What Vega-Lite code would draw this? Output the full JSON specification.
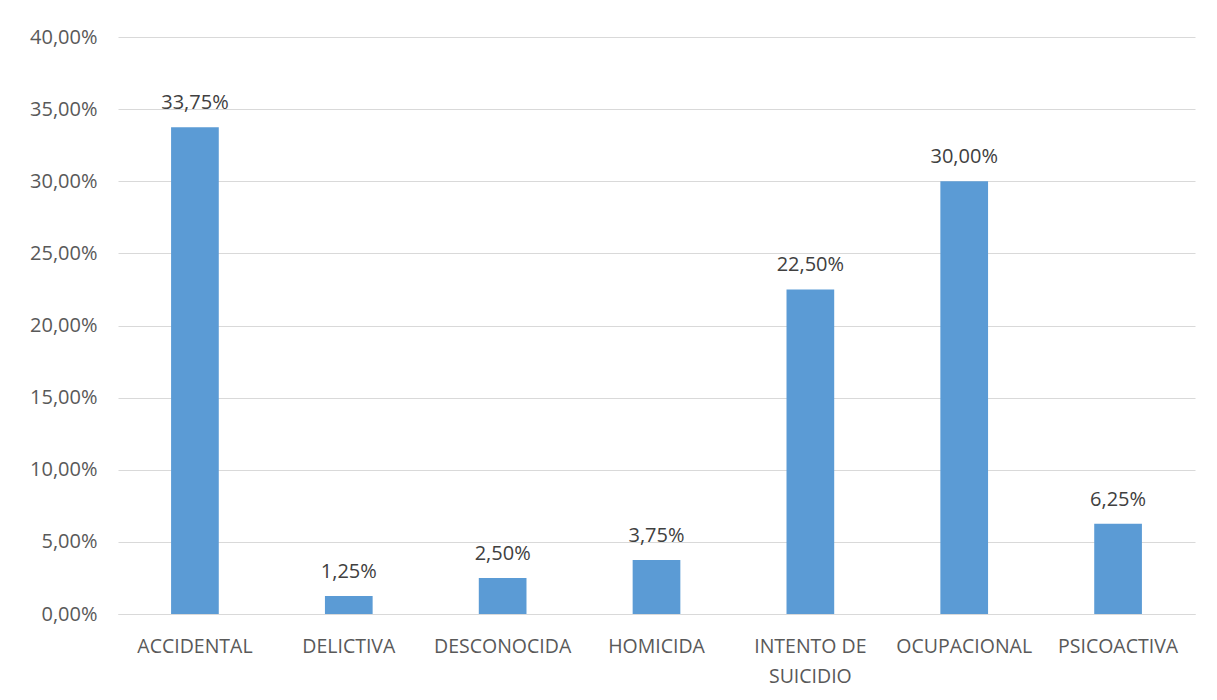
{
  "$schema": "https://vega.github.io/schema/vega-lite/v6.json",
  "width": 1077,
  "height": 577,
  "autosize": "none",
  "padding": {"left": 118, "top": 37, "right": 22, "bottom": 86},
  "background": "white",
  "config": {
    "locale": {"number": {"decimal": ",", "thousands": ".", "grouping": [3], "currency": ["$", ""]}},
    "view": {"stroke": null},
    "font": "Open Sans"
  },
  "data": {
    "values": [
      {"tipo": "ACCIDENTAL", "valor": 0.3375},
      {"tipo": "DELICTIVA", "valor": 0.0125},
      {"tipo": "DESCONOCIDA", "valor": 0.025},
      {"tipo": "HOMICIDA", "valor": 0.0375},
      {"tipo": "INTENTO DE SUICIDIO", "valor": 0.225},
      {"tipo": "OCUPACIONAL", "valor": 0.30},
      {"tipo": "PSICOACTIVA", "valor": 0.0625}
    ]
  },
  "encoding": {
    "x": {
      "field": "tipo", "type": "nominal", "sort": null,
      "scale": {"paddingInner": 0.69, "paddingOuter": 0.345},
      "axis": {
        "title": null, "labelAngle": 0, "ticks": false,
        "domainColor": "#d9d9d9", "domainWidth": 1,
        "labelColor": "#595959", "labelFontSize": 19.5, "labelPadding": 23,
        "labelBaseline": "top", "labelLineHeight": 30,
        "labelExpr": "datum.label == 'INTENTO DE SUICIDIO' ? ['INTENTO DE', 'SUICIDIO'] : datum.label"
      }
    },
    "y": {
      "field": "valor", "type": "quantitative",
      "scale": {"domain": [0, 0.4]},
      "axis": {
        "title": null, "format": ".2%", "values": [0, 0.05, 0.1, 0.15, 0.2, 0.25, 0.3, 0.35, 0.4],
        "ticks": false, "domain": false, "gridColor": "#d9d9d9",
        "labelColor": "#595959", "labelFontSize": 20, "labelPadding": 21
      }
    }
  },
  "layer": [
    {"mark": {"type": "bar", "color": "#5b9bd5"}},
    {
      "mark": {"type": "text", "baseline": "alphabetic", "dy": -18, "fontSize": 20, "color": "#404040"},
      "encoding": {"text": {"field": "valor", "type": "quantitative", "format": ".2%"}}
    }
  ]
}
